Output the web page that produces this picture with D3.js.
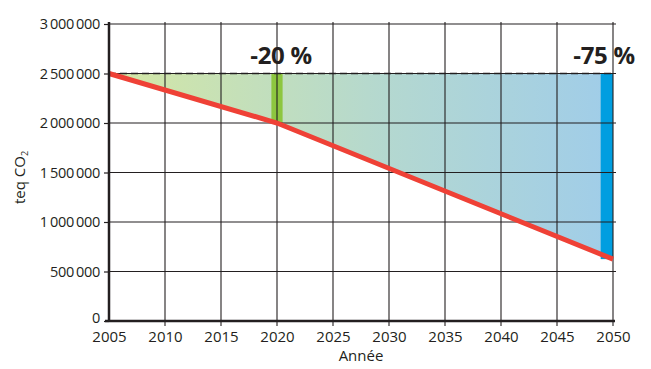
<!DOCTYPE html>
<html>
<head>
<meta charset="utf-8">
<script src="https://cdn.jsdelivr.net/npm/d3@7"></script>
<style>
  body { margin: 0; background: #fff; }
  svg text { font-family: "Open Sans", sans-serif; fill: #231f20; }
</style>
</head>
<body>
<div class="chart"></div>
<script>
// data
var years = [2005, 2010, 2015, 2020, 2025, 2030, 2035, 2040, 2045, 2050];
var yTicks = [0, 500000, 1000000, 1500000, 2000000, 2500000, 3000000];
var refLevel = 2500000;            // 2005 level, dashed line
var pathYears = [2005, 2020, 2050];
var pathValues = [2500000, 2000000, 625000];
var targets = [
  { label: '-20 %', from: 2019.5, to: 2020.5, value: 2000000, color: '#8dc63f' },
  { label: '-75 %', from: 2048.9, to: 2050, value: 625000, color: '#009ee0' }
];

var width = 651,
    height = 369;

var x = d3.scaleLinear().domain([2005, 2050]).range([109, 613]);
var y = d3.scaleLinear().domain([0, 3000000]).range([321, 24]);

var svg = d3.select('.chart')
  .append('svg')
  .attr('width', width)
  .attr('height', height);

var defs = svg.append('defs');
var grad = defs.append('linearGradient')
  .attr('id', 'fillGrad')
  .attr('gradientUnits', 'userSpaceOnUse')
  .attr('x1', x(2005)).attr('x2', x(2050))
  .attr('y1', 0).attr('y2', 0);
grad.append('stop').attr('offset', '0%').attr('stop-color', '#d4e7a4');
grad.append('stop').attr('offset', '55%').attr('stop-color', '#b4d8d0');
grad.append('stop').attr('offset', '100%').attr('stop-color', '#a0cde9');

// shaded gap between reference level and the reduction path
var pathData = pathYears.map(function(yr, i) { return { year: yr, value: pathValues[i] }; });
var area = d3.area()
  .x(function(d) { return x(d.year); })
  .y0(function(d) { return y(d.value); })
  .y1(y(refLevel));
svg.append('path')
  .datum(pathData)
  .attr('d', area)
  .attr('fill', 'url(#fillGrad)');

// target bars
svg.selectAll('rect.target')
  .data(targets)
  .enter()
  .append('rect')
  .attr('class', 'target')
  .attr('x', function(d) { return x(d.from); })
  .attr('width', function(d) { return x(d.to) - x(d.from); })
  .attr('y', y(refLevel))
  .attr('height', function(d) { return y(d.value) - y(refLevel); })
  .attr('fill', function(d) { return d.color; });

// grid
var grid = svg.append('g');
grid.selectAll('line.h')
  .data(yTicks.slice(1))
  .enter()
  .append('line')
  .attr('x1', x(2005)).attr('x2', x(2050) + 3)
  .attr('y1', function(d) { return y(d); })
  .attr('y2', function(d) { return y(d); })
  .attr('stroke', '#231f20')
  .attr('stroke-width', 1.1);
grid.selectAll('line.v')
  .data(years.slice(1))
  .enter()
  .append('line')
  .attr('x1', function(d) { return x(d); })
  .attr('x2', function(d) { return x(d); })
  .attr('y1', y(3000000) - 2).attr('y2', y(0) + 5)
  .attr('stroke', '#231f20')
  .attr('stroke-width', 1.1);

// dashed reference line
svg.append('line')
  .attr('x1', x(2005)).attr('x2', x(2050))
  .attr('y1', y(refLevel)).attr('y2', y(refLevel))
  .attr('stroke', '#231f20')
  .attr('stroke-width', 1.4)
  .attr('stroke-dasharray', '7,4');

// red reduction path
var line = d3.line()
  .x(function(d) { return x(d.year); })
  .y(function(d) { return y(d.value); });
svg.append('path')
  .datum(pathData)
  .attr('d', line)
  .attr('fill', 'none')
  .attr('stroke', '#ef4136')
  .attr('stroke-width', 5);

// axes
var yAxis = d3.axisLeft(y)
  .tickValues(yTicks)
  .tickSize(5)
  .tickPadding(4)
  .tickFormat(function(d) { return d3.format(',')(d).replace(/,/g, '\u2009'); });
var gy = svg.append('g')
  .attr('transform', 'translate(' + x(2005) + ',0)')
  .call(yAxis);
gy.select('.domain').attr('stroke', '#231f20').attr('stroke-width', 2.5)
  .attr('d', 'M0,' + (y(3000000) - 2) + 'V' + (y(0) + 1));
gy.selectAll('.tick line').attr('stroke', '#231f20').attr('stroke-width', 1.2);
gy.selectAll('.tick text').attr('font-size', 14.5).attr('fill', '#231f20')
  .attr('letter-spacing', '-0.3px');
// lift the "0" a touch so it clears the 2005 label
gy.selectAll('.tick text').filter(function(d) { return d === 0; }).attr('dy', '0.1em');

var xAxis = d3.axisBottom(x)
  .tickValues(years)
  .tickSize(0)
  .tickPadding(10)
  .tickFormat(d3.format('d'));
var gx = svg.append('g')
  .attr('transform', 'translate(0,' + y(0) + ')')
  .call(xAxis);
gx.select('.domain').attr('stroke', '#231f20').attr('stroke-width', 2.5)
  .attr('d', 'M' + (x(2005) - 4) + ',0H' + (x(2050) + 2));
gx.selectAll('.tick text').attr('font-size', 15).attr('fill', '#231f20');

// axis titles
svg.append('text')
  .attr('x', x(2027.5))
  .attr('y', 361)
  .attr('text-anchor', 'middle')
  .attr('font-size', 15)
  .text('Année');

var yt = svg.append('text')
  .attr('transform', 'translate(25,' + y(1450000) + ') rotate(-90)')
  .attr('text-anchor', 'middle')
  .attr('font-size', 15);
yt.append('tspan').text('teq CO');
yt.append('tspan').attr('font-size', 9).attr('dy', 3).text('2');

// target labels
svg.selectAll('text.target')
  .data(targets)
  .enter()
  .append('text')
  .attr('class', 'target')
  .attr('x', function(d, i) { return i === 0 ? x(2020) + 4 : x(2050) - 9; })
  .attr('y', 64)
  .attr('text-anchor', 'middle')
  .attr('font-size', 24)
  .attr('font-weight', 'bold')
  .attr('letter-spacing', '-0.3px')
  .text(function(d) { return d.label; });
</script>
</body>
</html>
